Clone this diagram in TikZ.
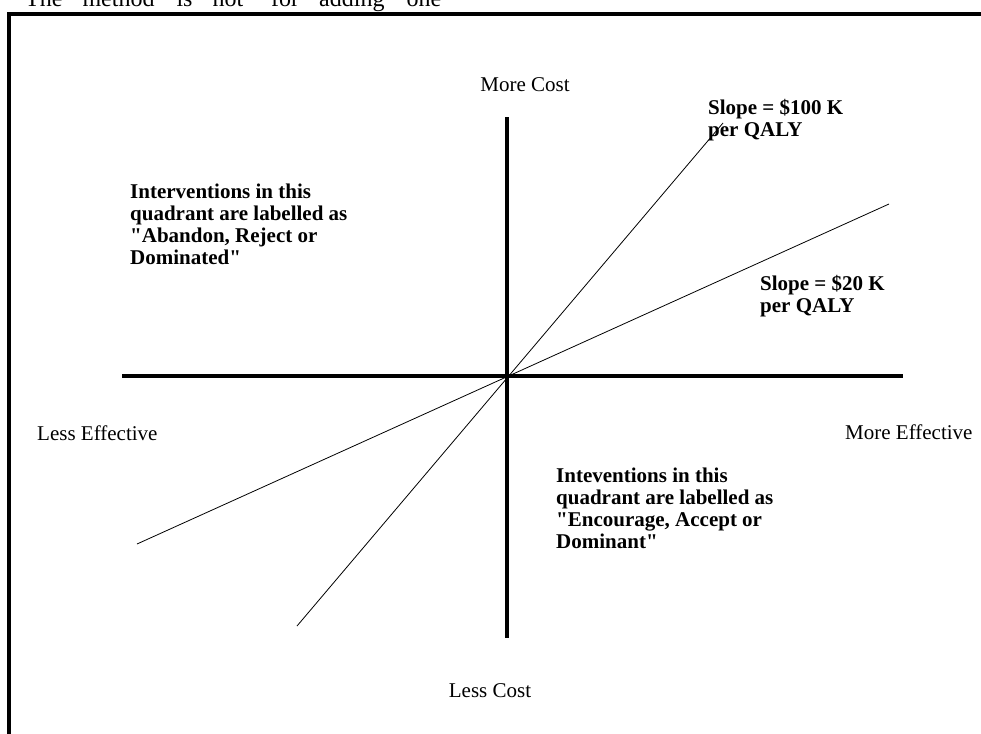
\documentclass[tikz,border=0pt]{standalone}
\usepackage{fontspec}
\setmainfont{Liberation Serif}
\usetikzlibrary{positioning}
\begin{document}
\begin{tikzpicture}[x=1pt, y=-1pt,
    axis/.style={line width=4pt},
    slopeline/.style={line width=0.8pt},
    lbl/.style={inner sep=0pt, anchor=base, font=\fontsize{21}{21.7}\selectfont},
    quadtext/.style={inner sep=0pt, anchor=base west, align=left,
        font=\fontsize{21}{21.7}\selectfont\bfseries}]
    \useasboundingbox (0,0) rectangle (981,733);
    \clip (0,0) rectangle (981,733);
    \fill[white] (0,0) rectangle (981,733);

    \coordinate (O) at (507, 376);
    \coordinate (L) at (122, 376);
    \coordinate (R) at (903, 376);
    \coordinate (T) at (507, 117);
    \coordinate (B) at (507, 638);

    \coordinate (SteepUp) at (723, 123);
    \coordinate (SteepDown) at (297, 626);
    \coordinate (FlatUp) at (889, 204);
    \coordinate (FlatDown) at (137, 544);

    % frame, cut off at the right and bottom
    \draw[line width=4pt] (9, 760) -- (9, 14.5) -- (1000, 14.5);
    \node[inner sep=0pt, anchor=base west, font=\fontsize{24}{26}\selectfont] (cut) at (25, 7)
        {The\hspace{14pt} method\hspace{16pt} is\hspace{14pt} not\hspace{22pt} for\hspace{14pt} adding\hspace{16pt} one};

    \draw[axis] (L) -- (R);
    \draw[axis] (T) -- (B);

    \draw[slopeline] (SteepDown) -- (SteepUp);
    \draw[slopeline] (FlatDown) -- (FlatUp);

    \node[lbl] (morecost) at (525, 92) {More Cost};
    \node[lbl] (lesscost) at (490, 697) {Less Cost};
    \node[lbl, anchor=base west] (lesseff) at (37, 440) {Less Effective};
    \node[lbl, anchor=base west] (moreeff) at (845, 439) {More Effective};

    % base anchor of these nodes sits on their last line
    \node[quadtext] (slopehigh) at (708, 136) {Slope = \$100 K\\per QALY};
    \node[quadtext] (slopelow) at (760, 312) {Slope = \$20 K\\per QALY};

    \node[quadtext] (reject) at (130, 264)
        {Interventions in this\\quadrant are labelled as\\\textquotedbl Abandon, Reject or\\Dominated\textquotedbl};
    \node[quadtext] (accept) at (556, 548)
        {Inteventions in this\\quadrant are labelled as\\\textquotedbl Encourage, Accept or\\Dominant\textquotedbl};
\end{tikzpicture}
\end{document}
